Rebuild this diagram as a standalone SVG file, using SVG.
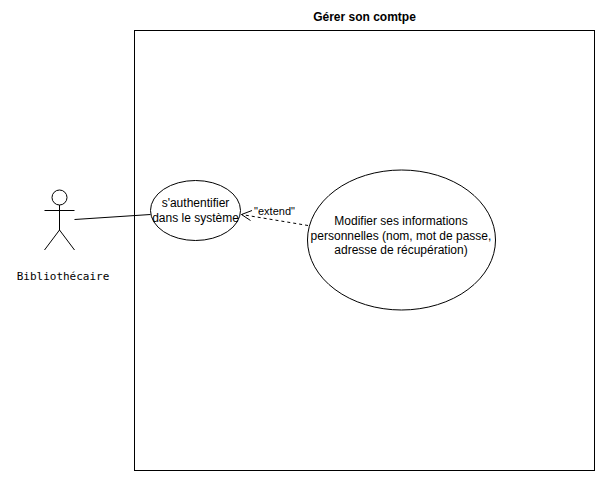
<svg xmlns="http://www.w3.org/2000/svg" width="605" height="481" viewBox="0 0 605 481">
<style>
.s{fill:none;stroke:#000;stroke-width:1}
.e{fill:#fff;stroke:#000;stroke-width:1}
.t{font-family:"Liberation Sans",Arial,sans-serif;font-size:12px;fill:#000;text-anchor:middle}
</style>
<rect width="605" height="481" fill="#fff"/>
<g id="system">
<rect class="s" x="134.5" y="30.500" width="460" height="440"/>
<text class="t" x="364.500" y="21" font-weight="bold">Gérer son comtpe</text>
</g>
<g id="connectors">
<path class="s" d="M74.500 219.500L150.500 214.500"/>
<path class="s" d="M308 225.500L241.500 214.500" stroke-dasharray="3 3"/>
<path class="s" d="M252 210.500L241.500 214.500L250.500 220.500"/>
<text class="t" x="274.500" y="215" style="font-size:11px">"extend"</text>
</g>
<g id="actor">
<circle class="s" cx="59.500" cy="197.500" r="7.500"/>
<path class="s" d="M59.500 205V230M44.500 210.500H74.500M59.500 230L44.500 250M59.500 230L74.500 250"/>
<text x="63" y="280" text-anchor="middle" font-family="'DejaVu Sans Mono','Liberation Mono',monospace" font-size="11">Bibliothécaire</text>
</g>
<g id="auth">
<ellipse class="e" cx="195.500" cy="210.500" rx="45" ry="30"/>
<text class="t" x="195.500" y="207">s'authentifier</text>
<text class="t" x="195.500" y="222">dans le système</text>
</g>
<g id="modify">
<ellipse class="e" cx="401.500" cy="240" rx="94" ry="70"/>
<text class="t" x="401" y="225">Modifier ses informations</text>
<text class="t" x="401" y="240">personnelles (nom, mot de passe,</text>
<text class="t" x="401" y="254">adresse de récupération)</text>
</g>
</svg>
